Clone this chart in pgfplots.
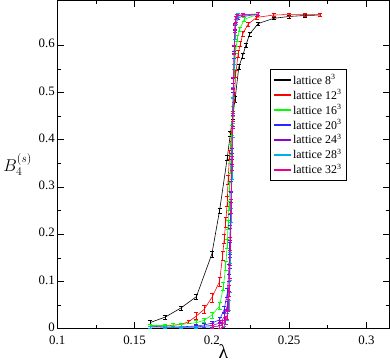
\documentclass[border=0pt]{standalone}
\usepackage{fontspec}
\setmainfont{Liberation Serif}
\usepackage{pgfplots}
\pgfplotsset{compat=1.18}
\definecolor{gviolet}{RGB}{148,0,211}
\definecolor{gblue}{RGB}{40,40,255}
\definecolor{gred}{RGB}{255,0,0}

\begin{document}
\begin{tikzpicture}
\begin{axis}[
    scale only axis,
    width=336pt, height=332pt,
    xmin=0.1, xmax=0.315,
    ymin=0, ymax=0.695,
    xtick={0.1,0.15,0.2,0.25,0.3},
    ytick={0,0.1,0.2,0.3,0.4,0.5,0.6},
    minor x tick num=1,
    minor y tick num=1,
    major tick length=7pt,
    minor tick length=4pt,
    tick style={black, line width=0.6pt},
    axis line style={line width=0.8pt},
    /pgf/number format/assume math mode=true,
    /pgf/number format/fixed,
    /pgf/number format/precision=3,
    ticklabel style={font=\fontsize{13}{13}\selectfont},
    yticklabel style={xshift=1pt, yshift=1.5pt},
    xticklabel style={yshift=-3.5pt},
    xlabel={\fontsize{20}{20}\selectfont λ},
    ylabel={\fontsize{17}{17}\selectfont $B_{4}^{(s)}$},
    ylabel style={rotate=-90, at={(ticklabel cs:0.5)}, anchor=east, xshift=0pt},
    xlabel style={yshift=7pt},
    legend style={at={(0.64,0.79)}, anchor=north west, font=\fontsize{12}{13}\selectfont,
        row sep=0pt, inner sep=3pt},
    legend cell align=left,
    every axis plot/.append style={line width=0.6pt, mark=none,
        error bars/y dir=both, error bars/y explicit,
        error bars/error bar style={line width=0.6pt},
        error bars/error mark options={rotate=90, mark size=2pt, line width=0.6pt}},
]
% lattice 8^3
\addplot[black, forget plot] coordinates {
(0.16,0.013) +- (0,0.004)
(0.17,0.025) +- (0,0.004)
(0.18,0.044) +- (0,0.004)
(0.19,0.068) +- (0,0.005)
(0.2,0.158) +- (0,0.006)
(0.205,0.25) +- (0,0.006)
(0.21,0.362) +- (0,0.006)
(0.212,0.413) +- (0,0.006)
(0.2135,0.45) +- (0,0.006)
(0.215,0.485) +- (0,0.006)
(0.2175,0.555) +- (0,0.005)
(0.22,0.578) +- (0,0.005)
(0.222,0.60) +- (0,0.004)
(0.2245,0.624) +- (0,0.004)
(0.23,0.646) +- (0,0.003)
(0.24,0.657) +- (0,0.003)
(0.25,0.661) +- (0,0.003)
(0.26,0.663) +- (0,0.003)
(0.27,0.664) +- (0,0.003)
};
% lattice 12^3
\addplot[gred, forget plot] coordinates {
(0.16,0.004) +- (0,0.002)
(0.17,0.006) +- (0,0.002)
(0.18,0.009) +- (0,0.003)
(0.185,0.015) +- (0,0.004)
(0.19,0.027) +- (0,0.007)
(0.195,0.041) +- (0,0.008)
(0.2,0.066) +- (0,0.009)
(0.205,0.10) +- (0,0.01)
(0.207,0.155) +- (0,0.01)
(0.208,0.19) +- (0,0.01)
(0.209,0.225) +- (0,0.01)
(0.21,0.27) +- (0,0.01)
(0.2105,0.315) +- (0,0.01)
(0.2115,0.368) +- (0,0.01)
(0.2125,0.406) +- (0,0.01)
(0.2135,0.45) +- (0,0.01)
(0.2145,0.49) +- (0,0.01)
(0.2155,0.54) +- (0,0.008)
(0.217,0.582) +- (0,0.007)
(0.2185,0.603) +- (0,0.006)
(0.22,0.624) +- (0,0.005)
(0.2235,0.645) +- (0,0.004)
(0.229,0.659) +- (0,0.003)
(0.24,0.664) +- (0,0.003)
(0.25,0.665) +- (0,0.003)
(0.26,0.665) +- (0,0.003)
(0.27,0.665) +- (0,0.003)
};
% lattice 16^3
\addplot[green, forget plot] coordinates {
(0.16,0.007) +- (0,0.002)
(0.17,0.007) +- (0,0.002)
(0.175,0.008) +- (0,0.003)
(0.18,0.009) +- (0,0.003)
(0.19,0.013) +- (0,0.004)
(0.195,0.018) +- (0,0.004)
(0.2,0.029) +- (0,0.006)
(0.205,0.048) +- (0,0.007)
(0.2075,0.09) +- (0,0.009)
(0.209,0.133) +- (0,0.01)
(0.21,0.18) +- (0,0.01)
(0.2105,0.22) +- (0,0.01)
(0.211,0.26) +- (0,0.01)
(0.2115,0.30) +- (0,0.01)
(0.212,0.34) +- (0,0.01)
(0.2125,0.38) +- (0,0.01)
(0.213,0.42) +- (0,0.01)
(0.2135,0.46) +- (0,0.01)
(0.214,0.50) +- (0,0.01)
(0.2145,0.54) +- (0,0.009)
(0.2155,0.59) +- (0,0.007)
(0.2165,0.615) +- (0,0.006)
(0.218,0.634) +- (0,0.005)
(0.221,0.655) +- (0,0.004)
(0.23,0.666) +- (0,0.003)
};
% lattice 20^3
\addplot[gblue, forget plot] coordinates {
(0.16,0.004) +- (0,0.002)
(0.17,0.004) +- (0,0.002)
(0.18,0.004) +- (0,0.002)
(0.19,0.006) +- (0,0.003)
(0.195,0.008) +- (0,0.004)
(0.2,0.012) +- (0,0.004)
(0.205,0.019) +- (0,0.005)
(0.208,0.041) +- (0,0.007)
(0.21,0.076) +- (0,0.009)
(0.211,0.126) +- (0,0.01)
(0.2115,0.17) +- (0,0.012)
(0.212,0.23) +- (0,0.012)
(0.2125,0.30) +- (0,0.012)
(0.213,0.37) +- (0,0.012)
(0.2135,0.44) +- (0,0.012)
(0.214,0.51) +- (0,0.01)
(0.2145,0.58) +- (0,0.008)
(0.215,0.638) +- (0,0.006)
(0.217,0.659) +- (0,0.004)
(0.23,0.666) +- (0,0.003)
};
% lattice 24^3
\addplot[gviolet, forget plot] coordinates {
(0.17,0.003) +- (0,0.002)
(0.18,0.003) +- (0,0.002)
(0.19,0.004) +- (0,0.003)
(0.2,0.007) +- (0,0.004)
(0.205,0.012) +- (0,0.005)
(0.208,0.025) +- (0,0.007)
(0.21,0.05) +- (0,0.009)
(0.211,0.09) +- (0,0.01)
(0.2115,0.14) +- (0,0.012)
(0.212,0.2) +- (0,0.012)
(0.2125,0.28) +- (0,0.012)
(0.213,0.36) +- (0,0.012)
(0.2135,0.44) +- (0,0.012)
(0.214,0.52) +- (0,0.01)
(0.2145,0.59) +- (0,0.008)
(0.215,0.64) +- (0,0.006)
(0.216,0.662) +- (0,0.004)
(0.23,0.666) +- (0,0.003)
};
% lattice 28^3
\addplot[cyan, forget plot] coordinates {
(0.16,0.004) +- (0,0.002)
(0.17,0.003) +- (0,0.002)
(0.18,0.003) +- (0,0.002)
(0.19,0.003) +- (0,0.003)
(0.2,0.004) +- (0,0.004)
(0.205,0.006) +- (0,0.005)
(0.208,0.012) +- (0,0.006)
(0.21,0.025) +- (0,0.008)
(0.211,0.05) +- (0,0.01)
(0.2115,0.09) +- (0,0.012)
(0.212,0.15) +- (0,0.012)
(0.2125,0.24) +- (0,0.014)
(0.213,0.33) +- (0,0.014)
(0.2135,0.42) +- (0,0.014)
(0.214,0.50) +- (0,0.012)
(0.2145,0.57) +- (0,0.01)
(0.215,0.62) +- (0,0.008)
(0.2155,0.65) +- (0,0.006)
(0.217,0.664) +- (0,0.004)
(0.23,0.666) +- (0,0.003)
};
% lattice 32^3
\addplot[magenta, forget plot] coordinates {
(0.2,0.004) +- (0,0.004)
(0.205,0.006) +- (0,0.005)
(0.207,0.01) +- (0,0.007)
(0.209,0.018) +- (0,0.009)
(0.21,0.03) +- (0,0.01)
(0.2105,0.05) +- (0,0.012)
(0.211,0.08) +- (0,0.012)
(0.2115,0.12) +- (0,0.014)
(0.212,0.18) +- (0,0.014)
(0.2125,0.26) +- (0,0.015)
(0.213,0.35) +- (0,0.015)
(0.2135,0.44) +- (0,0.015)
(0.214,0.52) +- (0,0.013)
(0.2145,0.59) +- (0,0.01)
(0.215,0.635) +- (0,0.008)
(0.2155,0.655) +- (0,0.006)
(0.216,0.662) +- (0,0.004)
(0.22,0.665) +- (0,0.003)
(0.23,0.666) +- (0,0.003)
};
\addlegendimage{draw=black, line width=1.2pt}
\addlegendentry{lattice 8\textsuperscript{3}}
\addlegendimage{draw=gred, line width=1.2pt}
\addlegendentry{lattice 12\textsuperscript{3}}
\addlegendimage{draw=green, line width=1.2pt}
\addlegendentry{lattice 16\textsuperscript{3}}
\addlegendimage{draw=gblue, line width=1.2pt}
\addlegendentry{lattice 20\textsuperscript{3}}
\addlegendimage{draw=gviolet, line width=1.2pt}
\addlegendentry{lattice 24\textsuperscript{3}}
\addlegendimage{draw=cyan, line width=1.2pt}
\addlegendentry{lattice 28\textsuperscript{3}}
\addlegendimage{draw=magenta, line width=1.2pt}
\addlegendentry{lattice 32\textsuperscript{3}}
\end{axis}
\end{tikzpicture}
\end{document}
